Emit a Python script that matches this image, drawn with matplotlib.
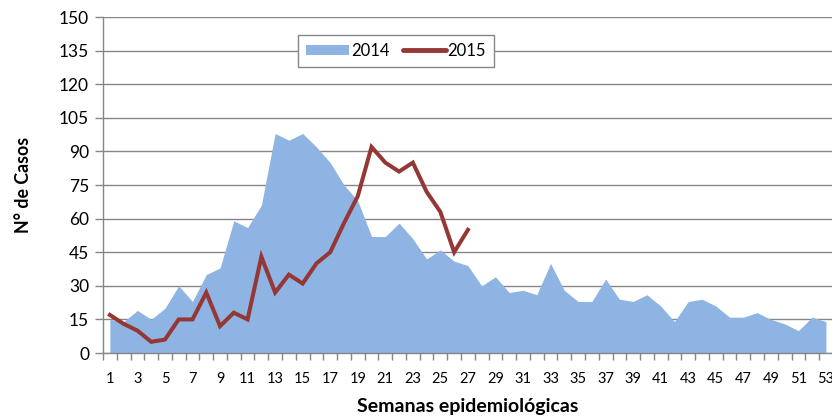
import numpy as np
import matplotlib.pyplot as plt
from matplotlib.patches import Patch
from matplotlib.lines import Line2D

plt.rcParams['font.family'] = ['Lato', 'DejaVu Sans']

# Casos por semana epidemiológica
semanas = np.arange(1, 54)
casos_2014 = [15, 14, 19, 15, 20, 30, 23, 35, 38, 59,
              56, 66, 98, 95, 98, 92, 85, 75, 68, 52,
              52, 58, 51, 42, 46, 41, 39, 30, 34, 27,
              28, 26, 40, 28, 23, 23, 33, 24, 23, 26,
              21, 14, 23, 24, 21, 16, 16, 18, 15, 13,
              10, 16, 14]
semanas_2015 = np.arange(1, 28)
casos_2015 = [17, 13, 10, 5, 6, 15, 15, 27, 12, 18,
              15, 43, 27, 35, 31, 40, 45, 58, 70, 92,
              85, 81, 85, 72, 63, 45, 55]
yticks = np.arange(0, 151, 15)

color_2014 = '#8EB4E3'
color_2015 = '#953735'
gris = '#868686'

fig = plt.figure(figsize=(8.32, 4.19), dpi=100)
ax = fig.add_axes([0.1238, 0.1575, 0.8772, 0.8019])

ax.fill_between(semanas, casos_2014, 0, color=color_2014, linewidth=0, zorder=2)
ax.plot(semanas_2015, casos_2015, color=color_2015, linewidth=2.9, zorder=3,
        solid_joinstyle='miter')

ax.set_xlim(0.5, 53.5)
ax.set_ylim(0, 150)
ax.set_yticks(yticks)
ax.yaxis.grid(True, color=gris, linewidth=1.0, zorder=1)
ax.set_axisbelow(True)

# marcas entre categorías, etiquetas en semanas impares
ax.set_xticks(np.arange(0.5, 54, 1))
ax.set_xticklabels([])
ax.set_xticks(semanas[::2], minor=True)
ax.set_xticklabels([str(s) for s in semanas[::2]], minor=True, fontsize=10.5)
ax.tick_params(axis='x', which='major', length=5, color=gris, width=1)
ax.tick_params(axis='x', which='minor', length=0, pad=14)
ax.tick_params(axis='y', length=6, color=gris, width=1, labelsize=12.5, pad=4)

for lado in ['top', 'right']:
    ax.spines[lado].set_visible(False)
for lado in ['left', 'bottom']:
    ax.spines[lado].set_color(gris)
    ax.spines[lado].set_linewidth(1.0)

ax.set_xlabel('Semanas epidemiológicas', fontsize=14, fontweight='bold', labelpad=8)
ax.set_ylabel('N° de Casos', fontsize=12.8, fontweight='bold', labelpad=19)

handles = [Patch(facecolor=color_2014, edgecolor='none'),
           Line2D([0], [0], color=color_2015, linewidth=3.5, solid_capstyle='round')]
leg = ax.legend(handles, ['2014', '2015'], ncol=2, loc='center',
                bbox_to_anchor=(396 / 832, 1 - 51 / 419), bbox_transform=fig.transFigure,
                fontsize=12, frameon=True, fancybox=False, framealpha=1,
                edgecolor=gris, handlelength=2.6, handleheight=0.6,
                columnspacing=0.8, handletextpad=0.1, borderpad=0.5)
leg.get_frame().set_linewidth(1.0)

fig.savefig('out.png', dpi=100)
